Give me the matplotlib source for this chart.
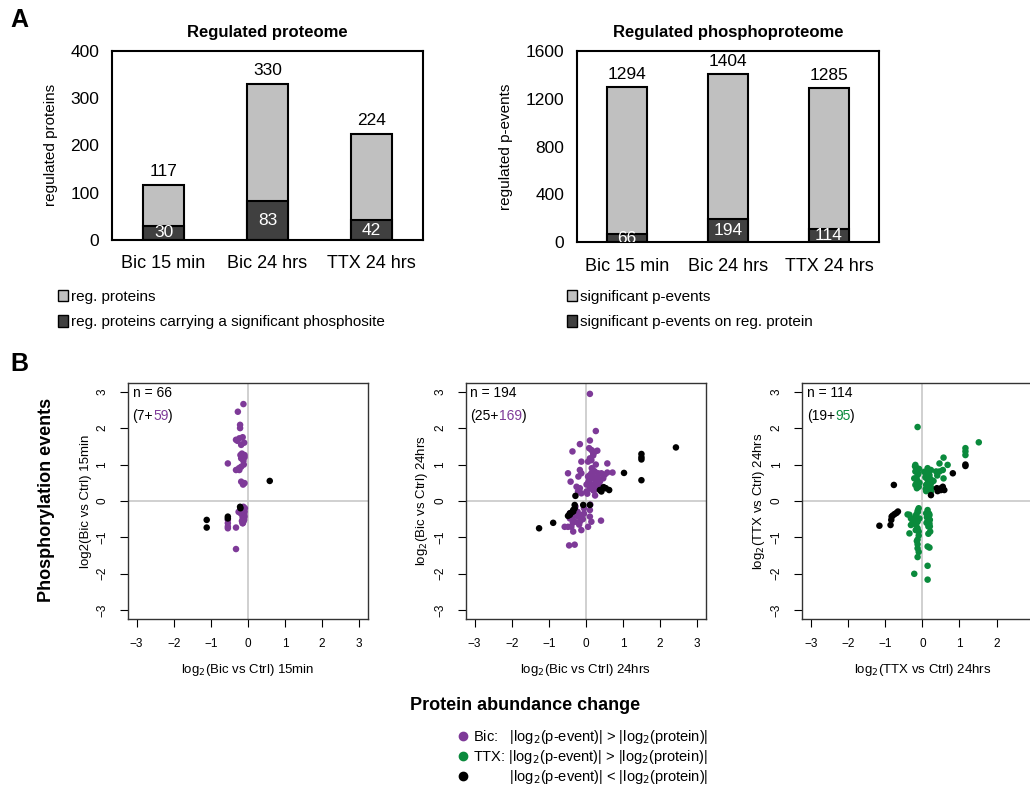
import matplotlib.pyplot as plt
from matplotlib.patches import Patch
from matplotlib.lines import Line2D

plt.rcParams['font.family'] = ['Liberation Sans', 'DejaVu Sans']

# ---- data: panel A ----
conditions = ["Bic 15 min", "Bic 24 hrs", "TTX 24 hrs"]
reg_proteins = [117, 330, 224]
reg_proteins_phospho = [30, 83, 42]
sig_pevents = [1294, 1404, 1285]
sig_pevents_regprot = [66, 194, 114]

# ---- data: panel B (log2 protein change, log2 p-event change) ----
bic15_purple_x = [-0.12, -0.27, -0.21, -0.21, -0.32, -0.23, -0.18, -0.20, -0.14, -0.09, -0.18,
                  -0.54, -0.32, -0.18, -0.23, -0.18, -0.09, -0.12, -0.16, -0.10, -0.14, -0.09,
                  -0.12, -0.08, -0.15, -0.10, -0.13, -0.17, -0.11, -0.09, -0.14, -0.12, -0.10,
                  -0.16, -0.12, -0.09, -0.14, -0.20, -0.11, -0.13, -0.15, -0.10, -0.12, -0.14,
                  -0.54, -0.54, -0.54, -0.54, -0.32, -0.14, -0.32, -0.25, -0.15, -0.10, -0.12,
                  -0.13, -0.28, -0.24, -0.11]
bic15_purple_y = [2.66, 2.45, 2.09, 2.00, 1.68, 1.72, 1.54, 1.26, 1.22, 1.26, 1.17,
                  1.03, 0.85, 0.94, 0.85, 0.53, 0.49, 1.10, 1.30, 1.60, 1.75, 1.20,
                  -0.16, -0.20, -0.25, -0.28, -0.32, -0.35, -0.38, -0.42, -0.45, -0.48, -0.52,
                  -0.55, -0.57, -0.30, -0.40, -0.33, -0.22, -0.50, -0.27, -0.36, -0.44, -0.61,
                  -0.52, -0.61, -0.70, -0.75, -0.73, -0.61, -1.32, -0.30, -0.18, -0.46, -0.25,
                  0.45, 1.65, 0.90, 1.00]
bic15_black_x = [0.59, -0.21, -0.54, -0.54, -1.11, -1.11, -0.20]
bic15_black_y = [0.55, -0.16, -0.43, -0.48, -0.52, -0.73, -0.20]

bic24_purple_x = [0.11, 0.27, -0.16, -0.36, 0.11, 0.09, 0.15, 0.24, 0.31, 0.20, 0.11, 0.15, 0.06,
                  -0.12, 0.58, -0.48, -0.16, -0.12, -0.20, -0.41, 0.72, 0.06, 0.15, 0.24, 0.33,
                  0.42, 0.51, 0.11, 0.20, 0.29, 0.38, 0.47, 0.06, 0.15, 0.24, 0.33, 0.11, 0.20,
                  0.02, 0.29, 0.58, -0.25, -0.16, -0.21, -0.12, -0.43, -0.34, -0.25, -0.21, -0.12,
                  -0.16, -0.30, -0.43, -0.48, -0.39, -0.57, -0.34, -0.12, 0.11, 0.11, 0.15, 0.06,
                  0.41, -0.45, -0.30, 0.02, 0.08, 0.18, 0.26, 0.35, 0.13, 0.22, 0.30, 0.04, 0.16,
                  0.27, 0.37, 0.10, 0.19, 0.28, -0.05, -0.08, -0.22, -0.28, -0.35, -0.18, -0.05,
                  0.20, 0.25, 0.12]
bic24_purple_y = [2.94, 1.92, 1.56, 1.36, 1.66, 1.45, 1.40, 1.35, 1.38, 1.25, 1.17, 1.12, 1.08,
                  1.08, 1.03, 0.76, 0.85, 0.76, 0.67, 0.53, 0.78, 0.67, 0.76, 0.81, 0.76,
                  0.76, 0.72, 0.58, 0.62, 0.58, 0.53, 0.62, 0.49, 0.44, 0.39, 0.49, 0.35, 0.30,
                  0.26, 0.35, 0.78, 0.39, 0.35, 0.26, 0.21, -0.34, -0.43, -0.29, -0.43, -0.39,
                  -0.57, -0.57, -0.48, -0.71, -0.71, -0.71, -0.84, -0.80, -0.25, -0.43, -0.57, -0.71,
                  -0.54, -1.22, -1.20, 0.45, 0.55, 0.68, 0.50, 0.42, 0.35, 0.28, 0.65, 0.20, 0.90,
                  1.00, 0.60, 0.70, 0.85, 0.40, -0.20, -0.50, -0.30, -0.15, -0.60, -0.65, -0.35,
                  1.30, 0.15, -0.10]
bic24_black_x = [2.43, 1.50, 1.50, 1.50, 1.50, 1.03, 0.42, 0.54, 0.63, 0.38, -0.28, -0.30, -0.07,
                 0.11, -0.34, -0.39, -0.43, -0.48, -0.88, -1.26, -0.34, -0.30, 0.42, 0.48, -0.43]
bic24_black_y = [1.47, 1.29, 1.20, 1.14, 0.57, 0.77, 0.26, 0.35, 0.30, 0.30, 0.14, -0.11, -0.11,
                 -0.11, -0.25, -0.32, -0.38, -0.41, -0.60, -0.75, -0.29, -0.20, 0.30, 0.38, -0.34]

ttx_green_x = [-0.13, 1.52, 1.16, 1.16, 1.16, 0.57, 0.68, 0.46, 0.37, 0.46, 0.57,
               -0.19, -0.15, -0.19, -0.13, -0.22, -0.15, -0.19, -0.10, -0.15,
               0.14, 0.23, 0.10, 0.19, 0.14, 0.23, 0.10, 0.19, 0.14, 0.23, 0.10,
               -0.10, -0.13, -0.17, -0.08, -0.13, -0.17, -0.13, -0.10, -0.13, -0.13, -0.13, -0.13,
               -0.35, -0.31, -0.26, -0.35, -0.31, -0.40,
               0.14, 0.10, 0.19, 0.14, 0.19, 0.21, 0.14, 0.19, 0.14, 0.14, -0.22,
               -0.10, -0.15, 0.12, 0.18, -0.12, 0.16, -0.18, 0.20, 0.08, -0.08,
               0.25, -0.20, 0.05, 0.22, 0.12, -0.11, 0.17, -0.14, 0.09, -0.16,
               0.21, 0.13, -0.09, 0.55, 0.40, 0.30, 0.24, -0.20, 0.11, -0.12,
               0.18, -0.14, 0.16, -0.10, 0.20]
ttx_green_y = [2.03, 1.61, 1.45, 1.36, 1.26, 1.19, 0.99, 1.03, 0.81, 0.81, 0.62,
               0.99, 0.90, 0.81, 0.71, 0.62, 0.58, 0.44, 0.39, 0.35,
               0.90, 0.85, 0.76, 0.71, 0.58, 0.53, 0.44, 0.39, 0.30, 0.26, 0.27,
               -0.20, -0.29, -0.38, -0.48, -0.57, -0.66, -0.75, -0.84, -1.06, -1.19, -1.54, -1.30,
               -0.38, -0.48, -0.57, -0.89, -0.66, -0.37,
               -0.25, -0.34, -0.39, -0.57, -0.62, -0.84, -1.25, -1.28, -1.78, -2.16, -2.00,
               -0.95, -1.10, -0.45, -0.50, -0.30, -0.70, -0.80, -0.52, 0.65, 0.50,
               0.35, 0.95, 0.80, 0.60, 0.45, 0.75, 0.68, 0.55, 0.33, 0.48,
               0.40, 0.82, 0.88, 0.85, 0.70, 0.55, 0.50, -0.45, -0.60, -0.25,
               -0.35, -0.55, -0.90, -1.40, -0.70]
ttx_black_x = [1.16, 1.16, 0.82, -0.77, 0.55, 0.50, 0.41, 0.39, 0.23, 0.59,
               -0.66, -0.75, -0.83, -0.84, -0.86, -1.16, -0.70, -0.80, 0.50]
ttx_black_y = [1.00, 0.96, 0.76, 0.44, 0.39, 0.30, 0.27, 0.35, 0.16, 0.30,
               -0.29, -0.36, -0.43, -0.52, -0.66, -0.68, -0.33, -0.40, 0.35]

light_grey = "#C0C0C0"
dark_grey = "#404040"
purple = "#7E3A98"
green = "#0A8A3C"

fig = plt.figure(figsize=(10.3, 7.87), dpi=100)


def bar_panel(rect, totals, subset, ymax, yticks, ylabel, title):
    ax = fig.add_axes(rect)
    pos = range(len(conditions))
    ax.bar(pos, totals, width=0.4, color=light_grey, edgecolor="black", linewidth=1.5)
    ax.bar(pos, subset, width=0.4, color=dark_grey, edgecolor="black", linewidth=1.5)
    for p, t, s in zip(pos, totals, subset):
        ax.annotate(str(t), (p, t), xytext=(0, 4), textcoords="offset points",
                    ha="center", va="bottom", fontsize=12.5)
        ax.text(p, s / 2, str(s), ha="center", va="center", color="white",
                fontsize=12.5, clip_on=True)
    ax.set_xlim(-0.5, 2.5)
    ax.set_ylim(0, ymax)
    ax.set_yticks(yticks)
    ax.set_xticks(list(pos))
    ax.set_xticklabels(conditions, fontsize=13)
    ax.tick_params(axis="y", labelsize=12.5, length=0, pad=9)
    ax.tick_params(axis="x", length=0, pad=11)
    ax.set_ylabel(ylabel, fontsize=11, labelpad=9)
    ax.set_title(title, fontsize=12, fontweight="bold", pad=10)
    for s in ax.spines.values():
        s.set_linewidth(1.5)
    return ax


bar_panel([0.1084, 0.695, 0.3026, 0.2406], reg_proteins, reg_proteins_phospho,
          400, [0, 100, 200, 300, 400], "regulated proteins", "Regulated proteome")
bar_panel([0.5599, 0.6921, 0.2938, 0.2435], sig_pevents, sig_pevents_regprot,
          1600, [0, 400, 800, 1200, 1600], "regulated p-events", "Regulated phosphoproteome")

legend_kw = dict(loc="upper left", frameon=False, fontsize=11, handlelength=0.7,
                 handleheight=0.8, handletextpad=0.2, labelspacing=0.75,
                 borderpad=0, borderaxespad=0)
fig.legend(handles=[Patch(facecolor=light_grey, edgecolor="black"),
                    Patch(facecolor=dark_grey, edgecolor="black")],
           labels=["reg. proteins", "reg. proteins carrying a significant phosphosite"],
           bbox_to_anchor=(0.056, 0.632), **legend_kw)
fig.legend(handles=[Patch(facecolor=light_grey, edgecolor="black"),
                    Patch(facecolor=dark_grey, edgecolor="black")],
           labels=["significant p-events", "significant p-events on reg. protein"],
           bbox_to_anchor=(0.550, 0.632), **legend_kw)


def scatter_panel(left, cx, cy, bx, by, col, xlabel, ylabel, n, n_black, n_col, xticks):
    ax = fig.add_axes([left, 0.2135, 0.2333, 0.2999])
    ax.axhline(0, color="#C8C8C8", lw=1.2, zorder=0)
    ax.axvline(0, color="#C8C8C8", lw=1.2, zorder=0)
    ax.scatter(cx, cy, s=22, color=col, edgecolors="none", zorder=2)
    ax.scatter(bx, by, s=22, color="black", edgecolors="none", zorder=3)
    ax.set_xlim(-3.24, 3.24)
    ax.set_ylim(-3.24, 3.24)
    ax.set_xticks(xticks)
    ax.set_yticks([-3, -2, -1, 0, 1, 2, 3])
    ax.tick_params(labelsize=8.5, length=6, width=0.8, pad=8)
    for lab in ax.get_yticklabels():
        lab.set_rotation(90)
        lab.set_va("center")
    ax.set_xlabel(xlabel, fontsize=9.5, labelpad=8)
    ax.set_ylabel(ylabel, fontsize=9.5, labelpad=3)
    for s in ax.spines.values():
        s.set_linewidth(1.0)
        s.set_color("#333333")
    ax.text(0.02, 0.985, "n = %d" % n, transform=ax.transAxes, ha="left", va="top", fontsize=10)
    t1 = ax.text(0.02, 0.89, "(%d+" % n_black, transform=ax.transAxes, ha="left",
                 va="top", fontsize=10)
    t2 = ax.annotate(str(n_col), xycoords=t1, xy=(1, 0), va="bottom", ha="left",
                     color=col, fontsize=10)
    ax.annotate(")", xycoords=t2, xy=(1, 0), va="bottom", ha="left", fontsize=10)
    return ax


all_ticks = [-3, -2, -1, 0, 1, 2, 3]
scatter_panel(0.124, bic15_purple_x, bic15_purple_y, bic15_black_x, bic15_black_y, purple,
              "log$_2$(Bic vs Ctrl) 15min", "log2(Bic vs Ctrl) 15min", 66, 7, 59, all_ticks)
scatter_panel(0.4521, bic24_purple_x, bic24_purple_y, bic24_black_x, bic24_black_y, purple,
              "log$_2$(Bic vs Ctrl) 24hrs", "log$_2$(Bic vs Ctrl) 24hrs", 194, 25, 169, all_ticks)
# last panel runs off the right edge of the figure, so its "3" tick is not visible
scatter_panel(0.7789, ttx_green_x, ttx_green_y, ttx_black_x, ttx_black_y, green,
              "log$_2$(TTX vs Ctrl) 24hrs", "log$_2$(TTX vs Ctrl) 24hrs", 114, 19, 95, all_ticks[:-1])

fig.text(0.045, 0.365, "Phosphorylation events", rotation=90, ha="center", va="center",
         fontsize=13, fontweight="bold")
fig.text(0.51, 0.104, "Protein abundance change", ha="center", va="center",
         fontsize=13, fontweight="bold")

fig.legend(handles=[Line2D([], [], ls="none", marker="o", ms=6, color=c) for c in (purple, green, "black")],
           labels=["Bic:   |log$_2$(p-event)| > |log$_2$(protein)|",
                   "TTX: |log$_2$(p-event)| > |log$_2$(protein)|",
                   "         |log$_2$(p-event)| < |log$_2$(protein)|"],
           loc="upper left", bbox_to_anchor=(0.445, 0.075), frameon=False, fontsize=10.5,
           handlelength=0.6, handletextpad=0.4, labelspacing=0.15, borderpad=0, borderaxespad=0)

fig.text(0.01, 0.975, "A", fontsize=18, fontweight="bold", ha="left", va="center")
fig.text(0.01, 0.537, "B", fontsize=18, fontweight="bold", ha="left", va="center")

fig.savefig("out.png", dpi=100)
